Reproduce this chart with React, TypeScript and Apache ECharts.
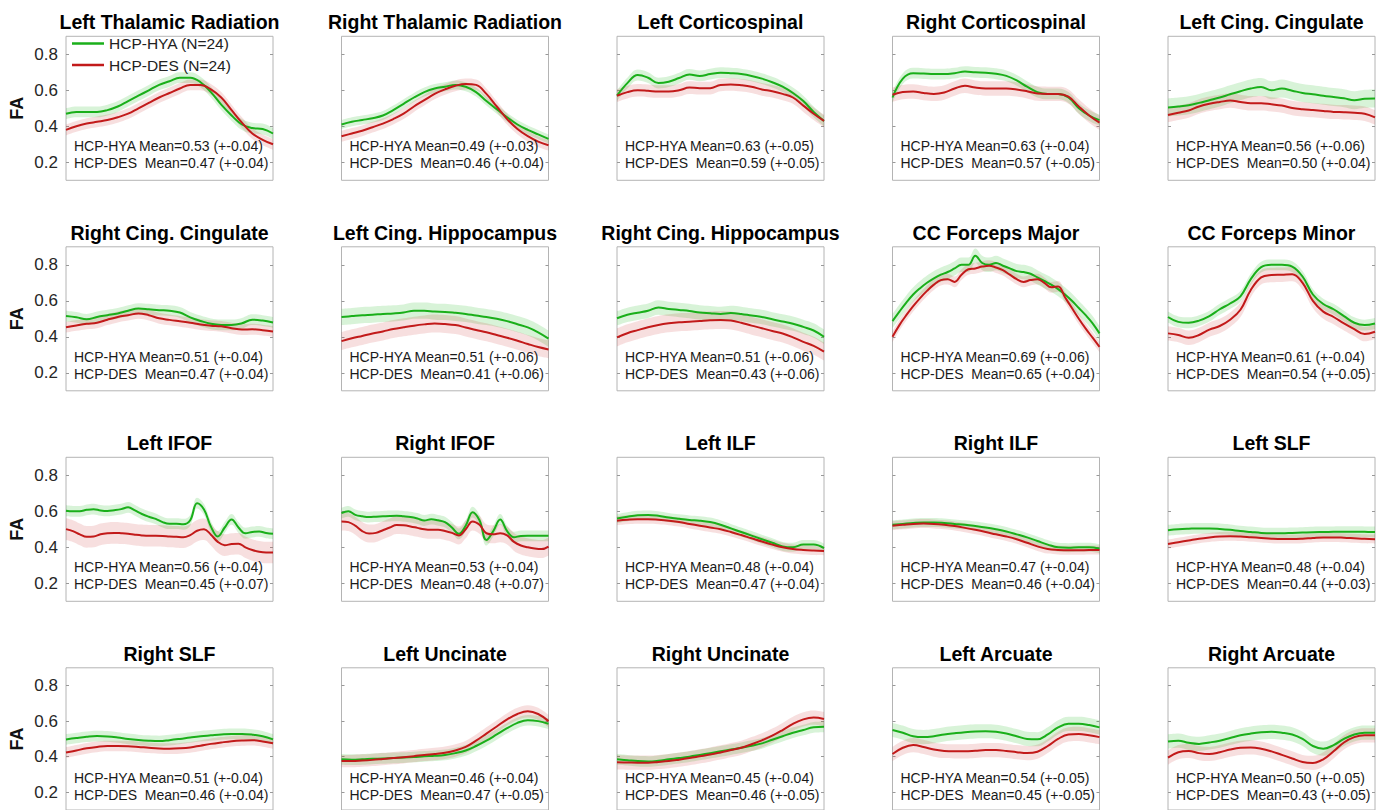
import React, { useEffect, useRef } from "react";
import * as echarts from "echarts";

const FONT = '"Liberation Sans", Arial, Helvetica, sans-serif';
const GREEN = "#1aaf1a";
const RED = "#c21a1a";
const GREEN_BAND = "rgba(40,190,40,0.18)";
const RED_BAND = "rgba(200,40,40,0.15)";

const tractNames = [
  "Left Thalamic Radiation", "Right Thalamic Radiation", "Left Corticospinal", "Right Corticospinal", "Left Cing. Cingulate",
  "Right Cing. Cingulate", "Left Cing. Hippocampus", "Right Cing. Hippocampus", "CC Forceps Major", "CC Forceps Minor",
  "Left IFOF", "Right IFOF", "Left ILF", "Right ILF", "Left SLF",
  "Right SLF", "Left Uncinate", "Right Uncinate", "Left Arcuate", "Right Arcuate",
];

const hyaMean = [0.53, 0.49, 0.63, 0.63, 0.56, 0.51, 0.51, 0.51, 0.69, 0.61, 0.56, 0.53, 0.48, 0.47, 0.48, 0.51, 0.46, 0.45, 0.54, 0.5];
const hyaSd = [0.04, 0.03, 0.05, 0.04, 0.06, 0.04, 0.06, 0.06, 0.06, 0.04, 0.04, 0.04, 0.04, 0.04, 0.04, 0.04, 0.04, 0.04, 0.05, 0.05];
const desMean = [0.47, 0.46, 0.59, 0.57, 0.5, 0.47, 0.41, 0.43, 0.65, 0.54, 0.45, 0.48, 0.47, 0.46, 0.44, 0.46, 0.47, 0.46, 0.45, 0.43];
const desSd = [0.04, 0.04, 0.05, 0.05, 0.04, 0.04, 0.06, 0.06, 0.04, 0.05, 0.07, 0.07, 0.04, 0.04, 0.03, 0.04, 0.05, 0.05, 0.05, 0.05];

// half-width of the shaded band around each profile
const hyaBand = [0.03, 0.025, 0.03, 0.03, 0.05, 0.03, 0.045, 0.04, 0.04, 0.03, 0.03, 0.03, 0.025, 0.025, 0.03, 0.03, 0.03, 0.03, 0.04, 0.04];
const desBand = [0.03, 0.03, 0.035, 0.04, 0.04, 0.03, 0.05, 0.05, 0.03, 0.04, 0.06, 0.05, 0.025, 0.025, 0.025, 0.03, 0.035, 0.04, 0.04, 0.04];

const yTicks = [0.2, 0.4, 0.6, 0.8];

// ---- HCP-HYA profiles ----
const hyaLeftThal = [0.47, 0.48, 0.48, 0.48, 0.49, 0.51, 0.54, 0.57, 0.6, 0.63, 0.65, 0.67, 0.67, 0.645, 0.59, 0.52, 0.46, 0.41, 0.39, 0.385, 0.36];
const hyaRightThal = [0.41, 0.425, 0.435, 0.445, 0.46, 0.49, 0.525, 0.56, 0.59, 0.61, 0.62, 0.63, 0.62, 0.59, 0.54, 0.495, 0.45, 0.41, 0.38, 0.355, 0.33];
const hyaLeftCST = [0.57, 0.64, 0.685, 0.67, 0.64, 0.648, 0.668, 0.688, 0.68, 0.69, 0.698, 0.695, 0.69, 0.68, 0.665, 0.645, 0.62, 0.585, 0.54, 0.48, 0.43];
const hyaRightCST = [0.56, 0.665, 0.695, 0.693, 0.69, 0.69, 0.695, 0.704, 0.7, 0.698, 0.692, 0.68, 0.655, 0.62, 0.59, 0.58, 0.58, 0.56, 0.5, 0.46, 0.434];
const hyaLeftCingC = [0.505, 0.51, 0.517, 0.53, 0.545, 0.56, 0.578, 0.595, 0.61, 0.618, 0.6, 0.61, 0.598, 0.585, 0.578, 0.57, 0.563, 0.556, 0.545, 0.553, 0.555];
const hyaRightCingC = [0.515, 0.508, 0.497, 0.51, 0.52, 0.53, 0.545, 0.557, 0.553, 0.548, 0.545, 0.535, 0.508, 0.488, 0.472, 0.466, 0.466, 0.475, 0.495, 0.49, 0.48];
const hyaLeftCingH = [0.51, 0.515, 0.52, 0.523, 0.527, 0.53, 0.535, 0.545, 0.545, 0.54, 0.538, 0.533, 0.527, 0.518, 0.51, 0.5, 0.487, 0.47, 0.452, 0.425, 0.39];
const hyaRightCingH = [0.503, 0.522, 0.534, 0.545, 0.563, 0.555, 0.549, 0.543, 0.535, 0.531, 0.527, 0.532, 0.527, 0.518, 0.51, 0.497, 0.485, 0.473, 0.455, 0.435, 0.4];
const hyaFMajor = [0.487, 0.54, 0.59, 0.635, 0.67, 0.7, 0.725, 0.745, 0.76, 0.78, 0.8, 0.8, 0.85, 0.81, 0.8, 0.81, 0.795, 0.78, 0.765, 0.76, 0.75, 0.73, 0.71, 0.69, 0.665, 0.635, 0.6, 0.56, 0.52, 0.475, 0.419];
const hyaFMinor = [0.51, 0.483, 0.478, 0.49, 0.515, 0.553, 0.585, 0.625, 0.72, 0.787, 0.8, 0.8, 0.79, 0.735, 0.635, 0.582, 0.553, 0.515, 0.478, 0.465, 0.474];
const hyaLeftIFOF = [0.603, 0.6, 0.6, 0.608, 0.612, 0.605, 0.602, 0.606, 0.612, 0.622, 0.605, 0.585, 0.57, 0.558, 0.54, 0.531, 0.531, 0.528, 0.55, 0.645, 0.61, 0.515, 0.46, 0.51, 0.555, 0.51, 0.478, 0.485, 0.488, 0.48, 0.475];
const hyaRightIFOF = [0.59, 0.6, 0.58, 0.572, 0.568, 0.57, 0.572, 0.574, 0.575, 0.572, 0.568, 0.56, 0.549, 0.556, 0.55, 0.54, 0.51, 0.475, 0.52, 0.595, 0.55, 0.44, 0.49, 0.555, 0.49, 0.456, 0.463, 0.464, 0.464, 0.464, 0.464];
const hyaLeftILF = [0.56, 0.57, 0.578, 0.58, 0.575, 0.565, 0.558, 0.552, 0.548, 0.54, 0.525, 0.505, 0.485, 0.465, 0.445, 0.425, 0.405, 0.4, 0.415, 0.415, 0.395];
const hyaRightILF = [0.525, 0.53, 0.535, 0.538, 0.538, 0.535, 0.53, 0.525, 0.518, 0.51, 0.5, 0.488, 0.472, 0.455, 0.435, 0.415, 0.4, 0.398, 0.4, 0.4, 0.392];
const hyaLeftSLF = [0.495, 0.5, 0.503, 0.505, 0.505, 0.502, 0.497, 0.49, 0.485, 0.48, 0.478, 0.478, 0.48, 0.482, 0.484, 0.485, 0.486, 0.487, 0.487, 0.486, 0.485];
const hyaRightSLF = [0.497, 0.505, 0.512, 0.516, 0.514, 0.508, 0.5, 0.494, 0.49, 0.488, 0.493, 0.5, 0.508, 0.515, 0.52, 0.525, 0.528, 0.528, 0.524, 0.515, 0.497];
const hyaLeftUnc = [0.385, 0.383, 0.385, 0.388, 0.39, 0.393, 0.395, 0.398, 0.402, 0.405, 0.41, 0.42, 0.435, 0.46, 0.49, 0.525, 0.56, 0.59, 0.605, 0.6, 0.585];
const hyaRightUnc = [0.385, 0.38, 0.375, 0.373, 0.377, 0.385, 0.392, 0.4, 0.41, 0.42, 0.43, 0.44, 0.45, 0.462, 0.475, 0.495, 0.515, 0.535, 0.55, 0.565, 0.568];
const hyaLeftArc = [0.55, 0.535, 0.515, 0.51, 0.515, 0.525, 0.532, 0.538, 0.542, 0.543, 0.54, 0.53, 0.515, 0.5, 0.498, 0.525, 0.565, 0.585, 0.585, 0.578, 0.565];
const hyaRightArc = [0.485, 0.49, 0.478, 0.472, 0.48, 0.49, 0.505, 0.52, 0.53, 0.537, 0.54, 0.535, 0.525, 0.5, 0.46, 0.445, 0.465, 0.5, 0.525, 0.535, 0.535];

// ---- HCP-DES profiles ----
const desLeftThal = [0.38, 0.4, 0.415, 0.425, 0.435, 0.45, 0.47, 0.5, 0.53, 0.56, 0.585, 0.61, 0.63, 0.63, 0.605, 0.56, 0.49, 0.42, 0.36, 0.325, 0.3];
const desRightThal = [0.345, 0.36, 0.375, 0.395, 0.415, 0.44, 0.47, 0.51, 0.545, 0.58, 0.605, 0.625, 0.635, 0.63, 0.58, 0.51, 0.44, 0.385, 0.345, 0.315, 0.295];
const desLeftCST = [0.57, 0.59, 0.6, 0.597, 0.593, 0.593, 0.6, 0.615, 0.612, 0.612, 0.63, 0.632, 0.628, 0.62, 0.605, 0.595, 0.58, 0.56, 0.515, 0.47, 0.43];
const desRightCST = [0.575, 0.59, 0.593, 0.585, 0.58, 0.588, 0.61, 0.625, 0.615, 0.61, 0.61, 0.61, 0.605, 0.595, 0.582, 0.58, 0.58, 0.565, 0.51, 0.46, 0.42];
const desLeftCingC = [0.463, 0.475, 0.488, 0.51, 0.525, 0.535, 0.543, 0.535, 0.528, 0.528, 0.522, 0.515, 0.502, 0.495, 0.49, 0.485, 0.48, 0.478, 0.475, 0.47, 0.45];
const desRightCingC = [0.453, 0.463, 0.472, 0.478, 0.495, 0.51, 0.52, 0.53, 0.52, 0.503, 0.494, 0.486, 0.478, 0.468, 0.462, 0.458, 0.448, 0.44, 0.442, 0.437, 0.43];
const desLeftCingH = [0.376, 0.392, 0.405, 0.418, 0.43, 0.443, 0.453, 0.462, 0.469, 0.474, 0.471, 0.465, 0.452, 0.438, 0.425, 0.41, 0.395, 0.378, 0.36, 0.343, 0.33];
const desRightCingH = [0.397, 0.42, 0.437, 0.453, 0.466, 0.475, 0.481, 0.484, 0.488, 0.492, 0.494, 0.49, 0.478, 0.462, 0.448, 0.432, 0.418, 0.397, 0.372, 0.35, 0.318];
const desFMajor = [0.4, 0.465, 0.52, 0.57, 0.615, 0.655, 0.69, 0.715, 0.72, 0.705, 0.745, 0.775, 0.78, 0.79, 0.795, 0.785, 0.77, 0.745, 0.72, 0.705, 0.715, 0.72, 0.7, 0.675, 0.68, 0.62, 0.56, 0.5, 0.445, 0.395, 0.344];
const desFMinor = [0.419, 0.41, 0.395, 0.41, 0.44, 0.46, 0.495, 0.55, 0.66, 0.73, 0.743, 0.745, 0.748, 0.7, 0.6, 0.54, 0.51, 0.475, 0.443, 0.415, 0.428];
const desLeftIFOF = [0.501, 0.49, 0.472, 0.458, 0.46, 0.472, 0.478, 0.48, 0.478, 0.475, 0.47, 0.466, 0.464, 0.464, 0.463, 0.46, 0.458, 0.456, 0.468, 0.492, 0.5, 0.47, 0.43, 0.412, 0.418, 0.42, 0.4, 0.385, 0.375, 0.371, 0.371];
const desRightIFOF = [0.544, 0.54, 0.52, 0.49, 0.476, 0.48, 0.495, 0.51, 0.524, 0.522, 0.516, 0.508, 0.5, 0.497, 0.497, 0.49, 0.48, 0.466, 0.5, 0.544, 0.525, 0.478, 0.472, 0.478, 0.466, 0.43, 0.41, 0.4, 0.393, 0.39, 0.404];
const desLeftILF = [0.548, 0.553, 0.556, 0.556, 0.553, 0.548, 0.54, 0.53, 0.52, 0.51, 0.5, 0.485, 0.468, 0.45, 0.432, 0.415, 0.4, 0.39, 0.385, 0.382, 0.38];
const desRightILF = [0.52, 0.525, 0.53, 0.532, 0.53, 0.525, 0.518, 0.508, 0.497, 0.485, 0.472, 0.46, 0.445, 0.425, 0.405, 0.39, 0.385, 0.383, 0.383, 0.385, 0.385];
const desLeftSLF = [0.418, 0.428, 0.438, 0.448, 0.455, 0.46, 0.462, 0.46, 0.456, 0.452, 0.448, 0.446, 0.446, 0.448, 0.452, 0.455, 0.455, 0.453, 0.45, 0.447, 0.445];
const desRightSLF = [0.423, 0.435, 0.447, 0.455, 0.46, 0.46, 0.459, 0.455, 0.45, 0.446, 0.445, 0.447, 0.452, 0.462, 0.472, 0.48, 0.487, 0.491, 0.493, 0.486, 0.475];
const desLeftUnc = [0.375, 0.375, 0.378, 0.382, 0.387, 0.392, 0.397, 0.403, 0.41, 0.415, 0.422, 0.435, 0.455, 0.49, 0.53, 0.57, 0.61, 0.64, 0.655, 0.64, 0.6];
const desRightUnc = [0.368, 0.367, 0.366, 0.366, 0.37, 0.375, 0.383, 0.392, 0.402, 0.412, 0.424, 0.437, 0.45, 0.47, 0.492, 0.518, 0.55, 0.585, 0.61, 0.62, 0.612];
const desLeftArc = [0.415, 0.45, 0.465, 0.455, 0.44, 0.432, 0.43, 0.43, 0.433, 0.437, 0.437, 0.432, 0.425, 0.42, 0.428, 0.46, 0.5, 0.525, 0.528, 0.52, 0.51];
const desRightArc = [0.395, 0.425, 0.432, 0.42, 0.415, 0.425, 0.44, 0.45, 0.452, 0.445, 0.43, 0.41, 0.39, 0.37, 0.365, 0.385, 0.43, 0.48, 0.51, 0.52, 0.52];

const hyaProfiles = [
  hyaLeftThal, hyaRightThal, hyaLeftCST, hyaRightCST, hyaLeftCingC,
  hyaRightCingC, hyaLeftCingH, hyaRightCingH, hyaFMajor, hyaFMinor,
  hyaLeftIFOF, hyaRightIFOF, hyaLeftILF, hyaRightILF, hyaLeftSLF,
  hyaRightSLF, hyaLeftUnc, hyaRightUnc, hyaLeftArc, hyaRightArc,
];
const desProfiles = [
  desLeftThal, desRightThal, desLeftCST, desRightCST, desLeftCingC,
  desRightCingC, desLeftCingH, desRightCingH, desFMajor, desFMinor,
  desLeftIFOF, desRightIFOF, desLeftILF, desRightILF, desLeftSLF,
  desRightSLF, desLeftUnc, desRightUnc, desLeftArc, desRightArc,
];

const HYA_NAME = "HCP-HYA (N=24)";
const DES_NAME = "HCP-DES (N=24)";

// layout (pixels)
const COL_LEFT0 = 66;
const COL_STEP = 275.5;
const ROW_TOP0 = 36.3;
const ROW_STEP = 210.5;
const PANEL_W = 207;
const PANEL_H = 144;

function buildOption() {
  const grid: any[] = [];
  const xAxis: any[] = [];
  const yAxis: any[] = [];
  const yAxisRight: any[] = [];
  const series: any[] = [];
  const graphic: any[] = [];

  tractNames.forEach((name, p) => {
    const r = Math.floor(p / 5);
    const c = p % 5;
    const left = COL_LEFT0 + c * COL_STEP;
    const top = ROW_TOP0 + r * ROW_STEP;
    grid.push({
      left, top, width: PANEL_W, height: PANEL_H,
      show: true, borderColor: "#b4b4b4", borderWidth: 1, backgroundColor: "#fff",
    });
    const hya = hyaProfiles[p];
    const des = desProfiles[p];
    xAxis.push({
      gridIndex: p, type: "category", boundaryGap: false,
      data: hya.map((_, i) => i), show: false,
    });
    yAxis.push({
      gridIndex: p, type: "value", min: 0.1, max: 0.9, position: "left",
      name: c === 0 ? "FA" : "", nameLocation: "middle", nameGap: 40, nameRotate: 90,
      nameTextStyle: { fontSize: 18, fontWeight: "bold", color: "#111", fontFamily: FONT },
      axisLine: { show: false },
      splitLine: { show: false },
      axisTick: { show: true, inside: true, length: 3, customValues: yTicks, lineStyle: { color: "#999" } },
      axisLabel: {
        show: c === 0, customValues: yTicks, fontSize: 17, color: "#262626", margin: 8, fontFamily: FONT,
        formatter: (v: number) => v.toFixed(1),
      },
    });
    yAxisRight.push({
      gridIndex: p, type: "value", min: 0.1, max: 0.9, position: "right",
      axisLine: { show: false }, splitLine: { show: false },
      axisTick: { show: true, inside: true, length: 3, customValues: yTicks, lineStyle: { color: "#999" } },
      axisLabel: { show: false },
    });

    const bands = [
      { data: hya, w: hyaBand[p], color: GREEN_BAND, key: "g" },
      { data: des, w: desBand[p], color: RED_BAND, key: "r" },
    ];
    bands.forEach((b) => {
      series.push({
        type: "line", name: "band", xAxisIndex: p, yAxisIndex: p, stack: `${b.key}${p}`,
        data: b.data.map((v) => +(v - b.w).toFixed(4)), smooth: 0.4, symbol: "none", silent: true,
        lineStyle: { opacity: 0 }, z: 1,
      });
      series.push({
        type: "line", name: "band", xAxisIndex: p, yAxisIndex: p, stack: `${b.key}${p}`,
        data: b.data.map(() => +(2 * b.w).toFixed(4)), smooth: 0.4, symbol: "none", silent: true,
        lineStyle: { opacity: 0 }, areaStyle: { color: b.color, opacity: 1 }, z: 1,
      });
    });
    series.push({
      type: "line", name: HYA_NAME, xAxisIndex: p, yAxisIndex: p, data: hya, smooth: 0.4,
      symbol: "none", lineStyle: { color: GREEN, width: 2 }, itemStyle: { color: GREEN }, z: 3,
    });
    series.push({
      type: "line", name: DES_NAME, xAxisIndex: p, yAxisIndex: p, data: des, smooth: 0.4,
      symbol: "none", lineStyle: { color: RED, width: 2 }, itemStyle: { color: RED }, z: 3,
    });

    graphic.push({
      type: "text", z: 100,
      style: {
        text: name, x: left + PANEL_W / 2, y: top - 14,
        fontSize: 19.5, fontWeight: "bold", fontFamily: FONT, fill: "#000",
        align: "center", verticalAlign: "middle", textAlign: "center", textVerticalAlign: "middle",
      },
    });
    graphic.push({
      type: "text", z: 100,
      style: {
        text: `HCP-HYA Mean=${hyaMean[p].toFixed(2)} (+-${hyaSd[p].toFixed(2)})`,
        x: left + 8, y: top + 109.7, fontSize: 14, fontFamily: FONT, fill: "#1a1a1a",
        align: "left", verticalAlign: "middle", textAlign: "left", textVerticalAlign: "middle",
      },
    });
    graphic.push({
      type: "text", z: 100,
      style: {
        text: `HCP-DES  Mean=${desMean[p].toFixed(2)} (+-${desSd[p].toFixed(2)})`,
        x: left + 8, y: top + 126.7, fontSize: 14, fontFamily: FONT, fill: "#1a1a1a",
        align: "left", verticalAlign: "middle", textAlign: "left", textVerticalAlign: "middle",
      },
    });
  });

  return {
    animation: false,
    backgroundColor: "#fff",
    textStyle: { fontFamily: FONT },
    legend: {
      data: [HYA_NAME, DES_NAME], orient: "vertical", left: 72, top: 35.5,
      itemWidth: 32, itemHeight: 2.5, itemGap: 5.5, icon: "rect", padding: 0,
      selectedMode: false,
      textStyle: { fontSize: 15.5, color: "#222", lineHeight: 16, fontFamily: FONT },
    },
    grid, xAxis, yAxis: [...yAxis, ...yAxisRight], series, graphic,
  };
}

export default function App() {
  const ref = useRef<HTMLDivElement>(null);
  useEffect(() => {
    if (!ref.current) return;
    const chart = echarts.init(ref.current, null, { renderer: "svg" });
    chart.setOption(buildOption() as any);
    return () => chart.dispose();
  }, []);
  return (
    <div
      ref={ref}
      style={{ position: "absolute", left: 0, top: 0, width: 1385, height: 810, background: "#fff" }}
    />
  );
}
